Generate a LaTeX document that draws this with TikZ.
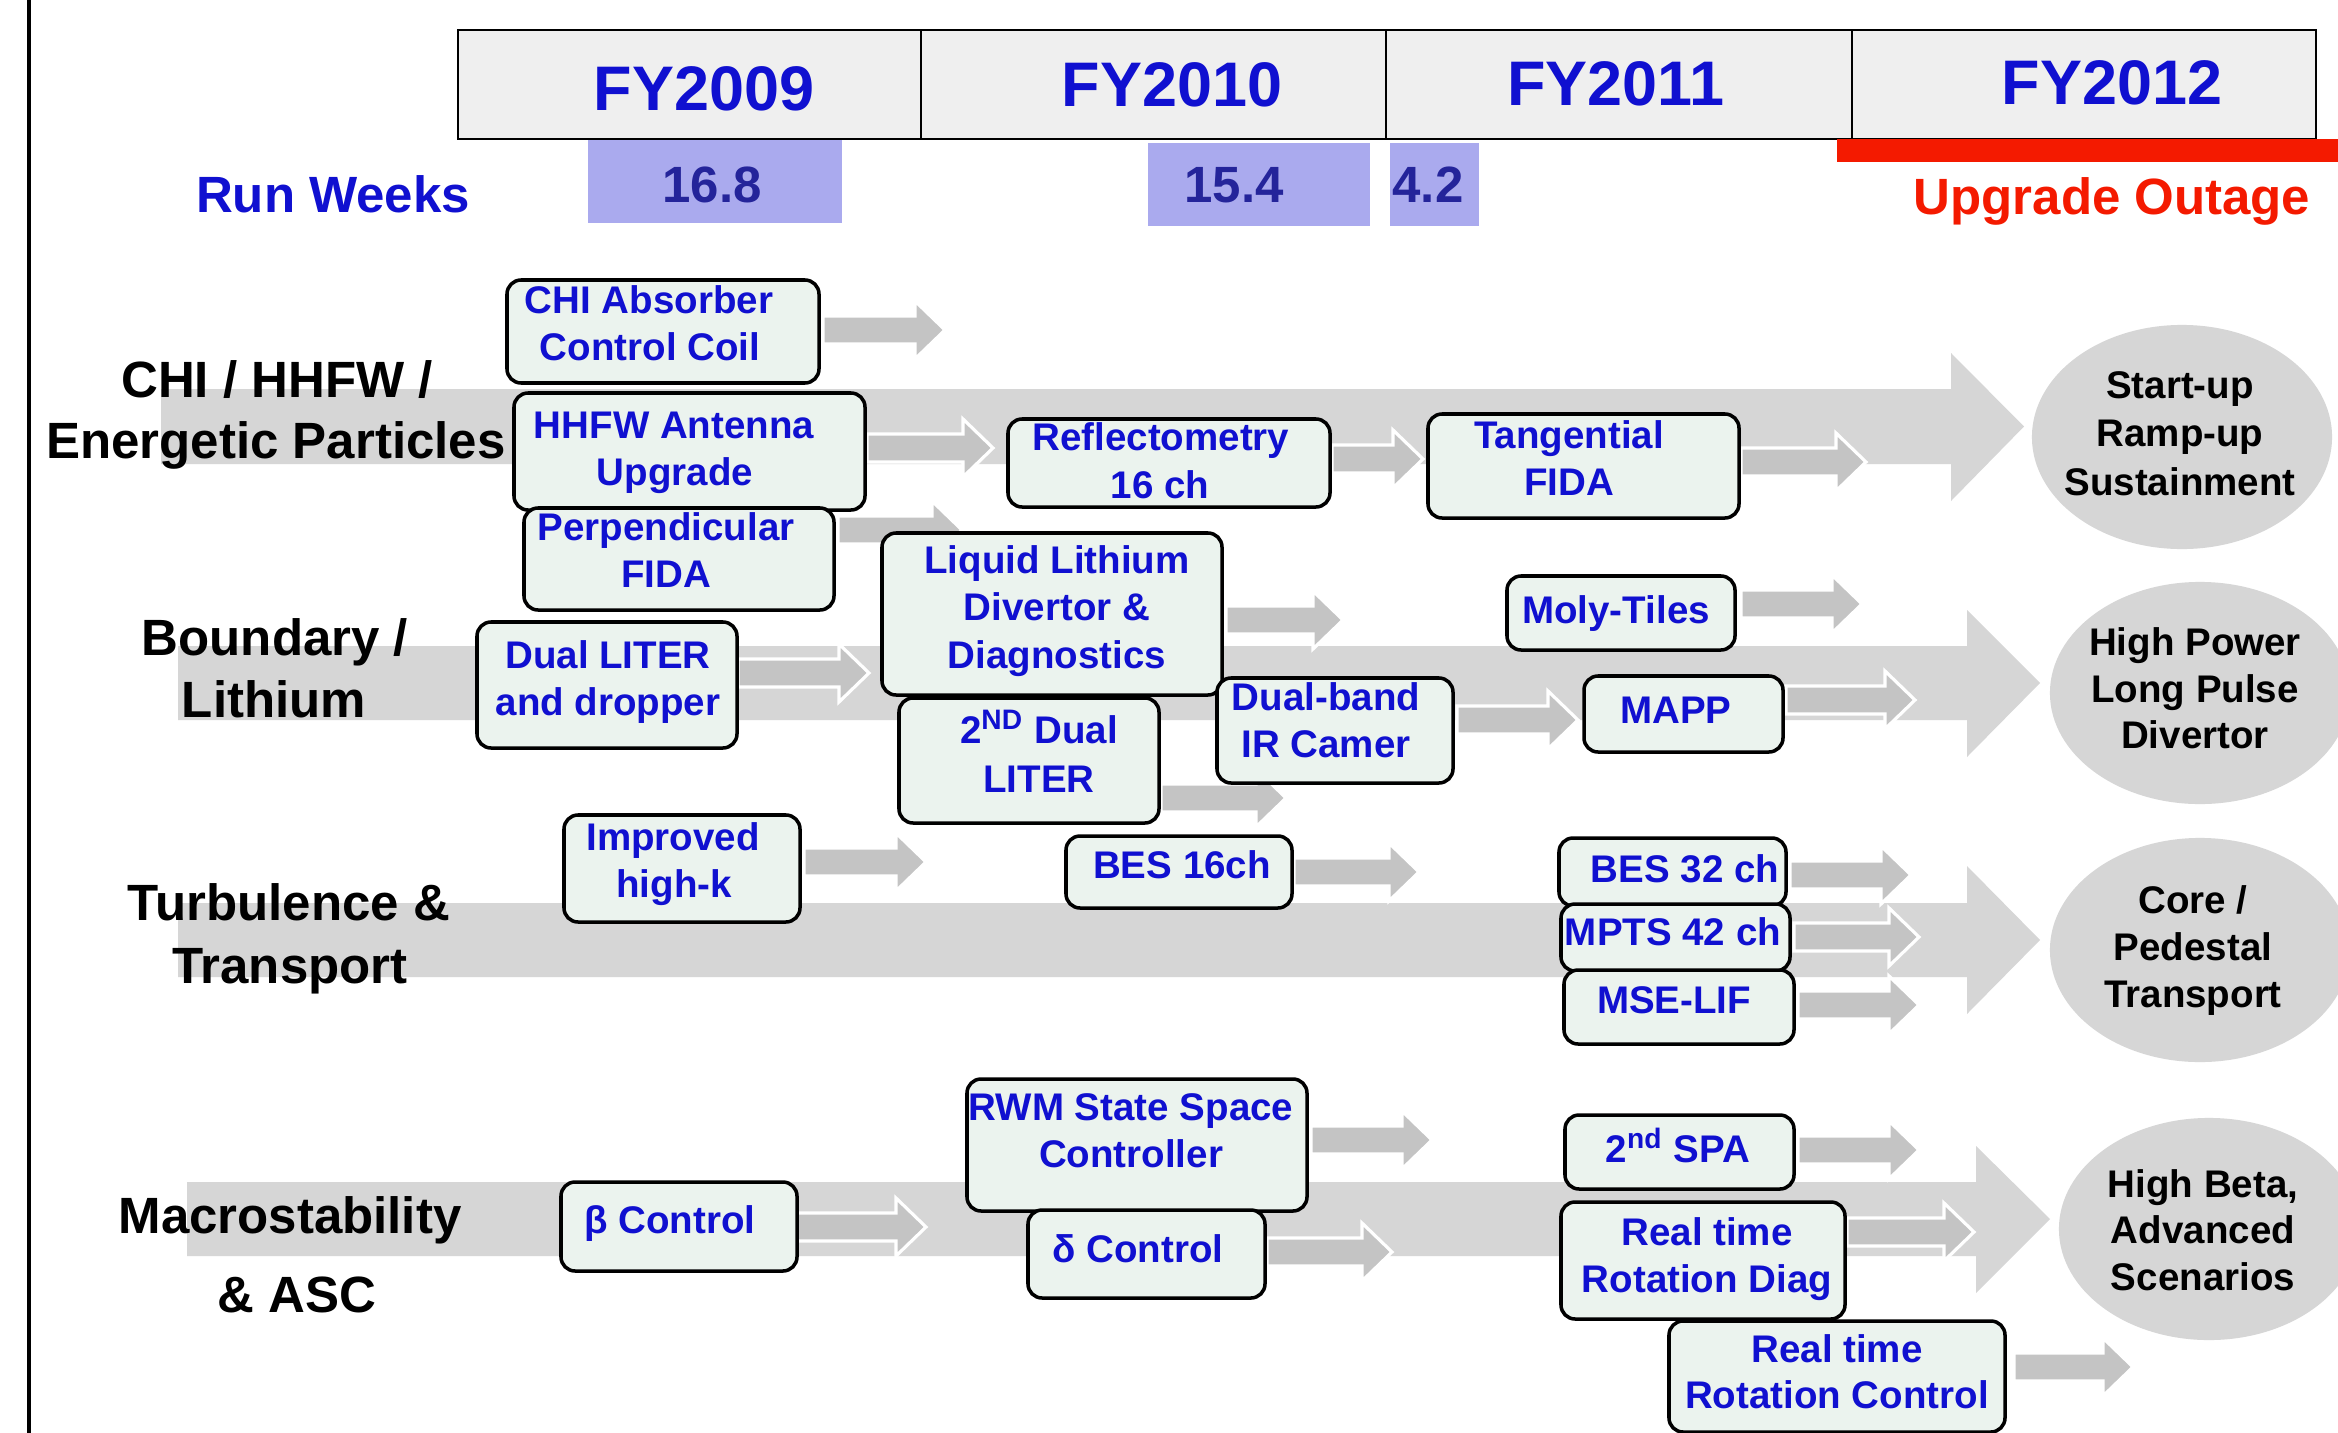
\documentclass[tikz,border=0pt]{standalone}
\usepackage{fontspec}
\setmainfont{Liberation Sans}
\usetikzlibrary{shapes.geometric}
\definecolor{band}{HTML}{D6D6D6}
\definecolor{sarrow}{HTML}{C4C4C4}
\definecolor{boxfill}{HTML}{EBF3EE}
\definecolor{txtblue}{HTML}{1010D0}
\definecolor{hdr}{HTML}{EFEFEF}
\definecolor{purp}{HTML}{AAAAEE}
\definecolor{navy}{HTML}{24249A}
\definecolor{redbar}{HTML}{F41A00}
\newcommand\bx[5]{%
  \pgfmathsetmacro\bw{(#4-#2)*0.01}%
  \pgfmathsetmacro\bh{(#5-#3)*0.01}%
  \node[box, minimum width=\bw cm, minimum height=\bh cm] (#1) at ({(#2+#4)/2},{(#3+#5)/2}) {};}
\newcommand\tl[4]{\node[btext] (#1) at (#2,#3) {#4};}
\newcommand\el[4]{\node[etext] (#1) at (#2,#3) {#4};}
\newcommand\cl[4]{\node[ctext] (#1) at (#2,#3) {#4};}
\newcommand\sarr[3]{\filldraw[sarrowstyle] (#1,#2-14) -- (#3-30,#2-14) -- (#3-30,#2-29) -- (#3,#2) -- (#3-30,#2+29) -- (#3-30,#2+14) -- (#1,#2+14) -- cycle;}
\newcommand\bigband[7]{% x0, top, bottom, headx, headtop, headbot, tip
  \fill[band] (#1,#2) -- (#4,#2) -- (#4,#5) -- (#7,{(#2+#3)/2}) -- (#4,#6) -- (#4,#3) -- (#1,#3) -- cycle;}
\begin{document}
\begin{tikzpicture}[x=0.01cm,y=-0.01cm,
  box/.style={draw=black, line width=1pt, fill=boxfill, rounded corners=4pt, inner sep=0pt, outer sep=0pt},
  btext/.style={text=txtblue, font=\fontsize{10.95}{13}\selectfont\bfseries, inner sep=0pt, anchor=base},
  etext/.style={text=black, font=\fontsize{10.95}{13}\selectfont\bfseries, inner sep=0pt, anchor=base},
  ctext/.style={text=black, font=\fontsize{14.5}{17}\selectfont\bfseries, inner sep=0pt, anchor=base},
  fytext/.style={text=txtblue, font=\fontsize{17.9}{21}\selectfont\bfseries, inner sep=0pt, anchor=base},
  numtext/.style={text=navy, font=\fontsize{14.5}{17}\selectfont\bfseries, inner sep=0pt, anchor=base},
  sarrowstyle/.style={fill=sarrow, draw=white, line width=0.9pt, line join=miter},
  ell/.style={ellipse, fill=band, inner sep=0pt, outer sep=0pt}]
\useasboundingbox (0,0) rectangle (2338,1433);
\fill[white] (0,0) rectangle (2338,1433);
% left line
\draw[line width=0.9pt] (29,0) -- (29,1433);
% header
\draw[fill=hdr, line width=0.8pt] (458,30) rectangle (2316,139);
\draw[line width=0.8pt] (921,30) -- (921,139) (1386,30) -- (1386,139) (1852,30) -- (1852,139);
\node[fytext] (fy09) at (704,110) {FY2009};
\node[fytext] (fy10) at (1172,106) {FY2010};
\node[fytext] (fy11) at (1616,105) {FY2011};
\node[fytext] (fy12) at (2112,104) {FY2012};
% run weeks
\fill[purp] (588,140) rectangle (842,223);
\fill[purp] (1148,143) rectangle (1370,226);
\fill[purp] (1390,143) rectangle (1479,226);
\node[numtext] (w1) at (712,202) {16.8};
\node[numtext] (w2) at (1234,202) {15.4};
\node[numtext] (w3) at (1428,202) {4.2};
\node[text=txtblue, font=\fontsize{14.5}{17}\selectfont\bfseries, inner sep=0pt, anchor=base] (rw) at (333,212) {Run Weeks};
\fill[redbar] (1837,139) rectangle (2338,162);
\node[text=redbar, font=\fontsize{14.5}{17}\selectfont\bfseries, inner sep=0pt, anchor=base] (uo) at (2112,214) {Upgrade Outage};
% big bands
\bigband{161}{389}{464}{1951}{353}{501}{2024}
\bigband{178}{646}{720}{1967}{610}{757}{2040}
\bigband{178}{903}{977}{1967}{866}{1014}{2040}
\bigband{187}{1182}{1256}{1976}{1146}{1293}{2050}
% ellipses
\node[ell, minimum width=3cm, minimum height=2.24cm] (e1) at (2182,437) {};
\node[ell, minimum width=3cm, minimum height=2.22cm] (e2) at (2200,693) {};
\node[ell, minimum width=3cm, minimum height=2.24cm] (e3) at (2200,950) {};
\node[ell, minimum width=3cm, minimum height=2.22cm] (e4) at (2209,1229) {};
\el{e1a}{2180}{398}{Start-up}
\el{e1b}{2180}{446}{Ramp-up}
\el{e1c}{2180}{495}{Sustainment}
\el{e2a}{2195}{655}{High Power}
\el{e2b}{2195}{702}{Long Pulse}
\el{e2c}{2195}{748}{Divertor}
\el{e3a}{2193}{913}{Core /}
\el{e3b}{2193}{960}{Pedestal}
\el{e3c}{2193}{1007}{Transport}
\el{e4a}{2203}{1197}{High Beta,}
\el{e4b}{2203}{1243}{Advanced}
\el{e4c}{2203}{1290}{Scenarios}
% category labels
\cl{c1a}{277}{397}{CHI / HHFW /}
\cl{c1b}{276}{458}{Energetic Particles}
\cl{c2a}{275}{655}{Boundary /}
\cl{c2b}{274}{717}{Lithium}
\cl{c3a}{289}{920}{Turbulence \&}
\cl{c3b}{290}{983}{Transport}
\cl{c4a}{290}{1233}{Macrostability}
\cl{c4b}{297}{1312}{\& ASC}
% small arrows
\sarr{823}{330}{945}
\sarr{867}{448}{993}
\sarr{838}{530}{962}
\sarr{738}{673}{869}
\sarr{804}{862}{926}
\sarr{796}{1227}{926}
\sarr{1332}{459}{1423}
\sarr{1741}{462}{1866}
\sarr{1226}{620}{1343}
\sarr{1741}{604}{1862}
\sarr{1457}{720}{1578}
\sarr{1786}{700}{1915}
\sarr{1161}{798}{1286}
\sarr{1294}{872}{1419}
\sarr{1790}{875}{1911}
\sarr{1794}{937}{1919}
\sarr{1798}{1005}{1919}
\sarr{1311}{1140}{1432}
\sarr{1267}{1252}{1392}
\sarr{1798}{1150}{1919}
\sarr{1847}{1232}{1974}
\sarr{2014}{1367}{2133}
% boxes
\bx{b1}{507}{280}{819}{383}
\tl{t1a}{649}{313}{CHI Absorber}
\tl{t1b}{650}{360}{Control Coil}
\bx{b2}{514}{393}{865}{510}
\tl{t2a}{674}{438}{HHFW Antenna}
\tl{t2b}{675}{485}{Upgrade}
\bx{b3}{524}{508}{834}{610}
\tl{t3a}{666}{540}{Perpendicular}
\tl{t3b}{666}{587}{FIDA}
\bx{b4}{477}{622}{737}{748}
\tl{t4a}{608}{668}{Dual LITER}
\tl{t4b}{608}{715}{and dropper}
\bx{b5}{564}{815}{800}{922}
\tl{t5a}{673}{850}{Improved}
\tl{t5b}{674}{897}{high-k}
\bx{b6}{561}{1182}{797}{1271}
\tl{t6a}{670}{1233}{β Control}
\bx{b7}{1008}{419}{1330}{507}
\tl{t7a}{1161}{450}{Reflectometry}
\tl{t7b}{1160}{498}{16 ch}
\bx{b8}{1428}{414}{1739}{518}
\tl{t8a}{1569}{448}{Tangential}
\tl{t8b}{1569}{495}{FIDA}
\bx{b9}{882}{533}{1222}{695}
\tl{t9a}{1057}{573}{Liquid Lithium}
\tl{t9b}{1057}{620}{Divertor \&}
\tl{t9c}{1057}{668}{Diagnostics}
\bx{b10}{899}{698}{1159}{823}
\tl{t10a}{1039}{743}{2\textsuperscript{ND} Dual}
\tl{t10b}{1039}{792}{LITER}
\bx{b11}{1217}{678}{1453}{783}
\tl{t11a}{1326}{710}{Dual-band}
\tl{t11b}{1326}{757}{IR Camer}
\bx{b12}{1507}{576}{1735}{650}
\tl{t12a}{1616}{623}{Moly-Tiles}
\bx{b13}{1584}{676}{1783}{752}
\tl{t13a}{1676}{723}{MAPP}
\bx{b14}{1066}{836}{1292}{908}
\tl{t14a}{1182}{878}{BES 16ch}
\bx{b15}{1559}{838}{1786}{906}
\tl{t15a}{1685}{882}{BES 32 ch}
\bx{b16}{1561}{904}{1790}{971}
\tl{t16a}{1673}{945}{MPTS 42 ch}
\bx{b17}{1564}{970}{1794}{1044}
\tl{t17a}{1674}{1013}{MSE-LIF}
\bx{b18}{967}{1079}{1307}{1211}
\tl{t18a}{1131}{1120}{RWM State Space}
\tl{t18b}{1131}{1167}{Controller}
\bx{b19}{1028}{1210}{1265}{1298}
\tl{t19a}{1138}{1262}{δ Control}
\bx{b20}{1565}{1115}{1794}{1189}
\tl{t20a}{1678}{1162}{2\textsuperscript{nd} SPA}
\bx{b21}{1561}{1202}{1845}{1319}
\tl{t21a}{1707}{1245}{Real time}
\tl{t21b}{1707}{1292}{Rotation Diag}
\bx{b22}{1669}{1321}{2005}{1432}
\tl{t22a}{1837}{1362}{Real time}
\tl{t22b}{1837}{1408}{Rotation Control}
\end{tikzpicture}
\end{document}
